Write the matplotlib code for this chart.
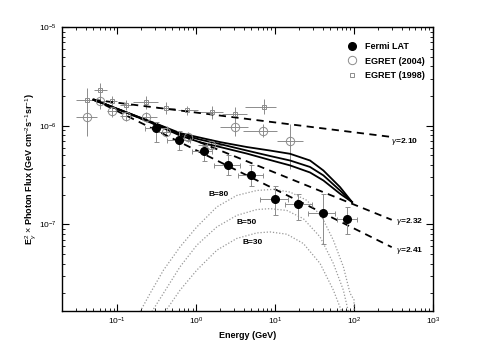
import numpy as np
import matplotlib
matplotlib.use("Agg")
import matplotlib.pyplot as plt
from matplotlib.lines import Line2D
from matplotlib.ticker import LogLocator, NullFormatter

plt.rcParams['font.family'] = ['Liberation Sans', 'DejaVu Sans']
plt.rcParams['mathtext.fontset'] = 'custom'
plt.rcParams['mathtext.rm'] = 'Liberation Sans'
plt.rcParams['mathtext.it'] = 'Liberation Sans:italic'
plt.rcParams['mathtext.bf'] = 'Liberation Sans:bold'

# Fermi LAT points (GeV, GeV cm^-2 s^-1 sr^-1)
lat_e = [0.311, 0.614, 1.24, 2.50, 4.92, 10.0, 19.7, 40.0, 80.9]
lat_f = [9.39e-7, 7.22e-7, 5.50e-7, 4.01e-7, 3.18e-7, 1.80e-7, 1.59e-7, 1.31e-7, 1.12e-7]
lat_elo = [0.226, 0.425, 0.88, 1.66, 3.4, 6.46, 13.4, 26.2, 60.4]
lat_ehi = [0.425, 0.839, 1.58, 3.6, 7.05, 14.7, 29.2, 57.4, 108]
lat_flo = [6.78e-7, 5.69e-7, 4.43e-7, 3.13e-7, 2.44e-7, 1.25e-7, 1.10e-7, 6.37e-8, 7.9e-8]
lat_fhi = [1.08e-6, 8.9e-7, 6.28e-7, 4.98e-7, 3.95e-7, 2.44e-7, 2.01e-7, 2.01e-7, 1.48e-7]

# EGRET (2004)
e04 = [0.0413, 0.0609, 0.0857, 0.129, 0.231, 0.413, 0.79, 1.55, 3.12, 7.11, 15.5]
f04 = [1.23e-6, 1.77e-6, 1.42e-6, 1.26e-6, 1.23e-6, 8.69e-7, 7.74e-7, 6.43e-7, 9.77e-7, 8.75e-7, 6.94e-7]
e04_lo = [0.0303, 0.0516, 0.0741, 0.109, 0.169, 0.33, 0.61, 1.07, 2.01, 3.97, 10.5]
e04_hi = [0.0563, 0.0741, 0.0998, 0.153, 0.318, 0.53, 1.07, 2.1, 4.59, 10.5, 22.8]
f04_lo = [7.93e-7, 1.49e-6, 1.21e-6, 1.12e-6, 1.08e-6, 7.74e-7, 6.78e-7, 5.82e-7, 7.93e-7, 7.62e-7, 3.66e-7]
f04_hi = [1.71e-6, 2.01e-6, 1.67e-6, 1.42e-6, 1.36e-6, 9.62e-7, 8.56e-7, 7.34e-7, 1.17e-6, 1.04e-6, 1.04e-6]

# EGRET (1998)
e98 = [0.0413, 0.0609, 0.0857, 0.129, 0.231, 0.413, 0.769, 1.58, 3.12, 7.26]
f98 = [1.82e-6, 2.30e-6, 1.79e-6, 1.63e-6, 1.72e-6, 1.51e-6, 1.45e-6, 1.36e-6, 1.31e-6, 1.56e-6]
e98_lo = [0.0303, 0.0516, 0.0741, 0.109, 0.158, 0.318, 0.597, 1.12, 2.12, 4.17]
e98_hi = [0.0563, 0.0741, 0.0998, 0.153, 0.333, 0.542, 1.07, 2.22, 4.38, 10.3]
f98_lo = [1.35e-6, 1.91e-6, 1.59e-6, 1.45e-6, 1.47e-6, 1.31e-6, 1.29e-6, 1.17e-6, 1.12e-6, 1.31e-6]
f98_hi = [2.42e-6, 2.73e-6, 2.01e-6, 1.82e-6, 2.01e-6, 1.72e-6, 1.59e-6, 1.59e-6, 1.53e-6, 1.86e-6]

# power-law lines (end points)
pl_labels = [r'$\gamma$=2.10', r'$\gamma$=2.32', r'$\gamma$=2.41']
pl_e = [[0.05, 300], [0.05, 300], [0.05, 300]]
pl_f = [[1.83e-6, 7.67e-7], [1.85e-6, 1.11e-7], [1.85e-6, 5.86e-8]]
pl_lab_e = [294, 340, 340]
pl_lab_f = [6.89e-7, 1.07e-7, 5.46e-8]

# model curves (solid)
mod_e = [0.05, 0.146, 0.350, 0.627, 1.12, 2.01, 4.38, 8.64, 15.5, 27.7, 40.9, 66.5, 94.3]
mod_top = [1.83e-6, 1.32e-6, 1.01e-6, 8.40e-7, 7.56e-7, 6.81e-7, 6.07e-7, 5.59e-7, 5.18e-7,
           4.43e-7, 3.51e-7, 2.38e-7, 1.68e-7]
mod_mid = [1.83e-6, 1.32e-6, 1.0e-6, 8.20e-7, 7.22e-7, 6.50e-7, 5.59e-7, 4.92e-7, 4.43e-7,
           3.81e-7, 3.13e-7, 2.20e-7, 1.68e-7]
mod_bot = [1.83e-6, 1.31e-6, 9.77e-7, 7.93e-7, 6.78e-7, 6.07e-7, 5.21e-7, 4.48e-7, 3.95e-7,
           3.35e-7, 2.78e-7, 2.04e-7, 1.68e-7]

# dotted components for different B
b80_e = [0.195, 0.262, 0.386, 0.626, 1.02, 1.83, 3.27, 5.86, 9.52, 15.5, 25.2, 39.0, 54.7, 73.2, 89.0, 100, 100]
b80_f = [1.3e-8, 2.0e-8, 3.43e-8, 5.90e-8, 9.40e-8, 1.50e-7, 1.96e-7, 2.20e-7, 2.26e-7, 2.12e-7, 1.75e-7,
         1.19e-7, 6.89e-8, 3.71e-8, 2.0e-8, 1.71e-8, 1.3e-8]
b50_e = [0.275, 0.386, 0.626, 1.02, 1.83, 3.27, 5.86, 8.64, 14.1, 22.8, 37.1, 54.7, 73.2, 84.7]
b50_f = [1.3e-8, 2.0e-8, 3.71e-8, 6.14e-8, 9.40e-8, 1.23e-7, 1.41e-7, 1.44e-7, 1.38e-7, 1.14e-7, 7.45e-8,
         4.01e-8, 2.15e-8, 1.3e-8]
b30_e = [0.405, 0.626, 1.02, 1.83, 3.27, 5.86, 8.64, 14.1, 22.8, 37.1, 54.7, 69.9]
b30_f = [1.3e-8, 2.15e-8, 3.43e-8, 5.46e-8, 7.18e-8, 8.17e-8, 8.36e-8, 7.93e-8, 6.38e-8, 4.01e-8, 2.15e-8, 1.3e-8]
b_labels = ['B=80', 'B=50', 'B=30']
b_lab_e = [1.95, 4.30, 5.12]
b_lab_f = [2.01e-7, 1.05e-7, 6.58e-8]


def err(v, lo, hi):
    v, lo, hi = np.array(v), np.array(lo), np.array(hi)
    return [v - lo, hi - v]


fig = plt.figure(figsize=(4.8, 3.5), dpi=100)
ax = fig.add_axes([62/480, 1 - 311/350, 371/480, 284/350])
ax.set_xscale('log')
ax.set_yscale('log')

grey = '#8c8c8c'
for e, f in [(b80_e, b80_f), (b50_e, b50_f), (b30_e, b30_f)]:
    ax.plot(e, f, color='#999999', ls=(0, (1, 1.5)), lw=0.9)
for t, x, y in zip(b_labels, b_lab_e, b_lab_f):
    ax.text(x, y, t, fontsize=6, fontweight='bold', ha='center', va='center')

ax.errorbar(e98, f98, xerr=err(e98, e98_lo, e98_hi), yerr=err(f98, f98_lo, f98_hi),
            fmt='s', ms=3.5, mfc='none', mec=grey, mew=0.7, ecolor=grey, elinewidth=0.7,
            capsize=0)
ax.errorbar(e04, f04, xerr=err(e04, e04_lo, e04_hi), yerr=err(f04, f04_lo, f04_hi),
            fmt='o', ms=6, mfc='none', mec=grey, mew=0.7, ecolor=grey, elinewidth=0.7,
            capsize=0)

for e, f in zip(pl_e, pl_f):
    ax.plot(e, f, color='black', ls=(0, (4, 3)), lw=1.3)
for t, x, y in zip(pl_labels, pl_lab_e, pl_lab_f):
    ax.text(x, y, t, fontsize=6, fontweight='bold', ha='left', va='center')

for m in [mod_top, mod_mid, mod_bot]:
    ax.plot(mod_e, m, color='black', lw=1.3, solid_joinstyle='round')

ax.errorbar(lat_e, lat_f, xerr=err(lat_e, lat_elo, lat_ehi), yerr=err(lat_f, lat_flo, lat_fhi),
            fmt='o', ms=5.5, mfc='black', mec='black', ecolor=grey, elinewidth=0.7,
            capsize=1.8, capthick=0.7)

ax.set_xlim(0.02, 1000)
ax.set_ylim(1.32e-8, 1e-5)
ax.xaxis.set_major_locator(LogLocator(base=10, numticks=10))
ax.yaxis.set_major_locator(LogLocator(base=10, numticks=10))
ax.xaxis.set_minor_locator(LogLocator(base=10, subs=np.arange(2, 10), numticks=20))
ax.yaxis.set_minor_locator(LogLocator(base=10, subs=np.arange(2, 10), numticks=20))
ax.yaxis.set_minor_formatter(NullFormatter())
ax.tick_params(which='both', direction='in', top=True, right=True, labelsize=6)
ax.tick_params(which='major', length=5, width=0.8)
ax.tick_params(which='minor', length=2.5, width=0.6)
for s in ax.spines.values():
    s.set_linewidth(1.0)

ax.set_xlabel('Energy (GeV)', fontsize=6.5, fontweight='bold', labelpad=3)
ax.set_ylabel(r'E$_\gamma^2$ $\times$ Photon Flux (GeV cm$^{-2}$s$^{-1}$sr$^{-1}$)',
              fontsize=6.5, fontweight='bold', labelpad=1)

handles = [Line2D([], [], ls='none', marker='o', ms=5.5, mfc='black', mec='black'),
           Line2D([], [], ls='none', marker='o', ms=6, mfc='none', mec=grey, mew=0.7),
           Line2D([], [], ls='none', marker='s', ms=3.5, mfc='none', mec=grey, mew=0.7)]
labels = ['Fermi LAT', 'EGRET (2004)', 'EGRET (1998)']
leg = ax.legend(handles, labels, loc='upper left', bbox_to_anchor=(0.745, 0.975),
                frameon=False, fontsize=6.5, handletextpad=0.8, labelspacing=0.6,
                handlelength=1.2)
for t in leg.get_texts():
    t.set_fontweight('bold')

fig.savefig('out.png', dpi=100)
